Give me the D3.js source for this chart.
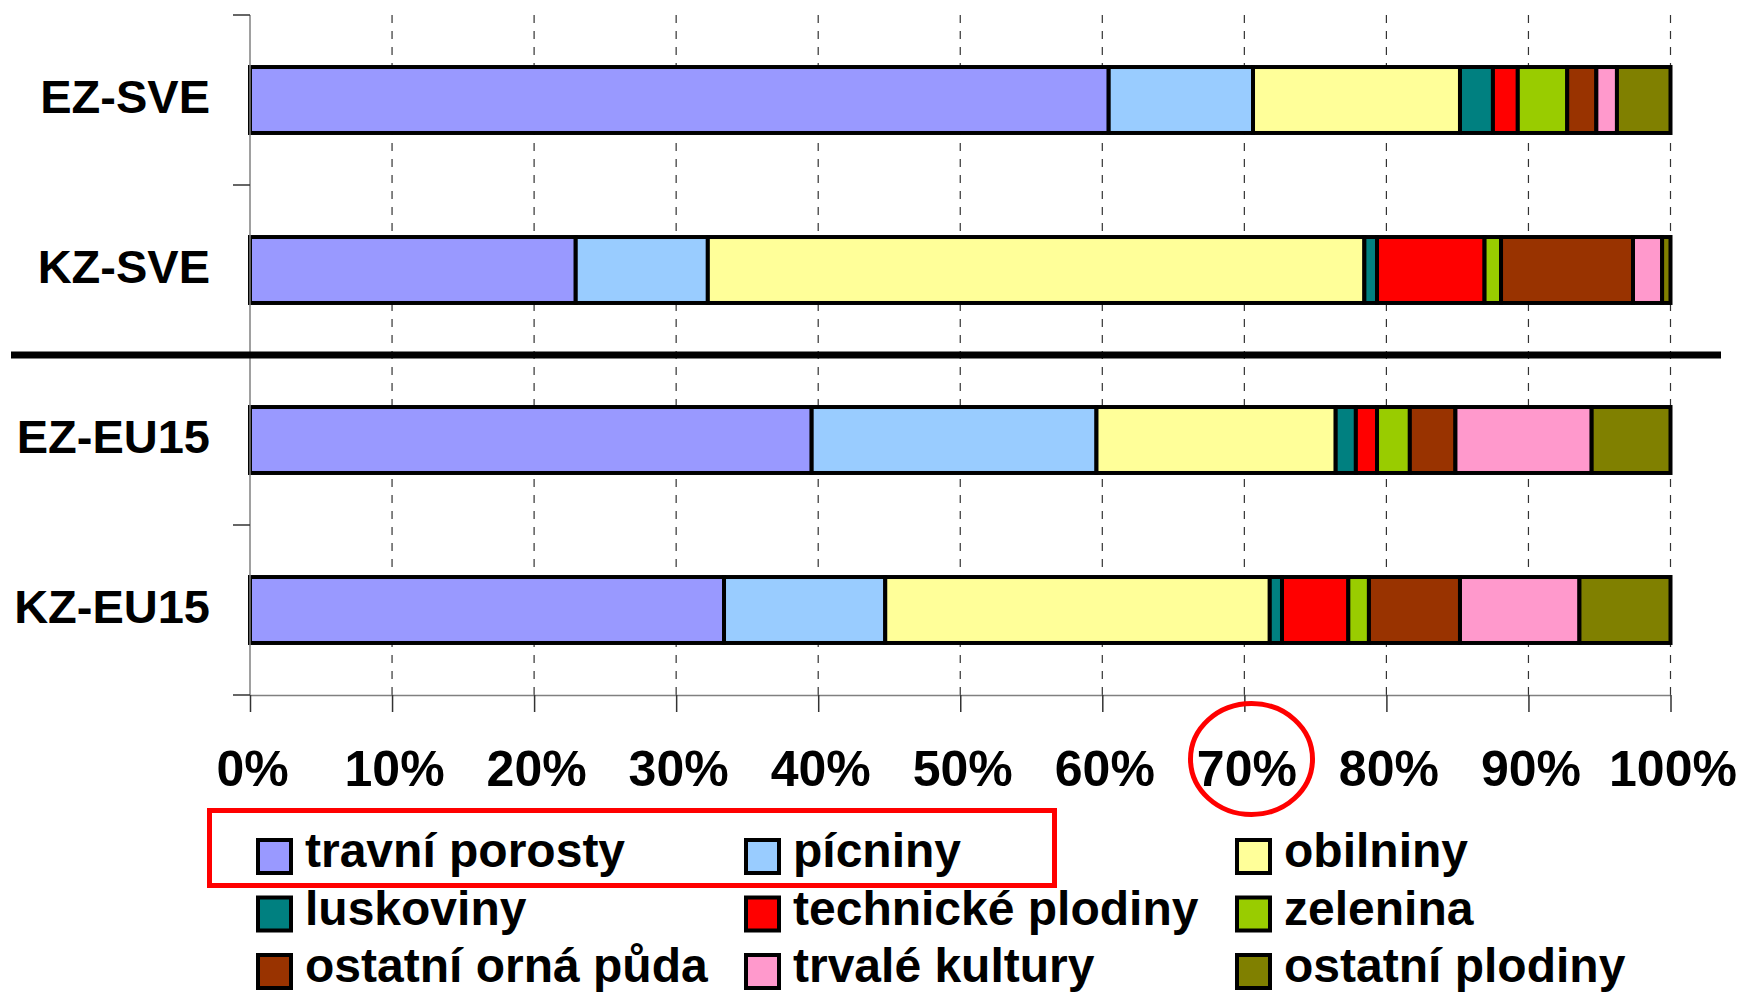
<!DOCTYPE html>
<html>
<head>
<meta charset="utf-8">
<script src="https://cdn.jsdelivr.net/npm/d3@7"></script>
<style>
  body { margin: 0; background: #fff; }
  svg { display: block; font-family: "Liberation Sans", Arial, sans-serif; font-weight: bold; }
</style>
</head>
<body>
<div id="chart"></div>
<script>
// categories (top to bottom)
var categories = ['EZ-SVE', 'KZ-SVE', 'EZ-EU15', 'KZ-EU15'];

// share of land use, % (one value per category)
var travniPorosty  = [60.45, 22.93, 39.54, 33.37];
var picniny        = [10.16,  9.30, 20.05, 11.35];
var obilniny       = [14.57, 46.22, 16.84, 27.07];
var luskoviny      = [ 2.32,  0.89,  1.42,  0.86];
var technicke      = [ 1.75,  7.57,  1.49,  4.67];
var zelenina       = [ 3.48,  1.16,  2.31,  1.45];
var ostatniOrna    = [ 2.05,  9.29,  3.21,  6.41];
var trvaleKultury  = [ 1.45,  2.05,  9.59,  8.41];
var ostatniPlodiny = [ 3.77,  0.59,  5.55,  6.41];

var seriesNames = ['travní porosty', 'pícniny', 'obilniny', 'luskoviny', 'technické plodiny',
                   'zelenina', 'ostatní orná půda', 'trvalé kultury', 'ostatní plodiny'];
var seriesValues = [travniPorosty, picniny, obilniny, luskoviny, technicke,
                    zelenina, ostatniOrna, trvaleKultury, ostatniPlodiny];
var seriesColors = ['#9999FF', '#99CCFF', '#FFFF99', '#008080', '#FF0000',
                    '#99CC00', '#993300', '#FF99CC', '#808000'];

var xTicks = [0, 10, 20, 30, 40, 50, 60, 70, 80, 90, 100];

var width = 1744, height = 992;

// build rows for d3.stack
var rows = categories.map(function(c, i) {
  var r = { cat: c };
  seriesNames.forEach(function(s, j) { r[s] = seriesValues[j][i]; });
  return r;
});

var svg = d3.select('#chart').append('svg')
  .attr('width', width)
  .attr('height', height);

var x = d3.scaleLinear().domain([0, 100]).range([250, 1670.5]);
var y = d3.scaleBand().domain(categories).range([15, 695])
  .paddingInner(0.612).paddingOuter(0.306);

var color = d3.scaleOrdinal().domain(seriesNames).range(seriesColors);

// dashed gridlines
svg.append('g')
  .selectAll('line')
  .data(xTicks.filter(function(d) { return d > 0; }))
  .enter()
  .append('line')
  .attr('x1', function(d) { return x(d); })
  .attr('x2', function(d) { return x(d); })
  .attr('y1', 15)
  .attr('y2', 695)
  .attr('stroke', '#333')
  .attr('stroke-width', 1.2)
  .attr('stroke-dasharray', '8,8');

// stacked bars
var stacked = d3.stack().keys(seriesNames)(rows);

svg.append('g')
  .selectAll('g')
  .data(stacked)
  .enter()
  .append('g')
  .attr('fill', function(d) { return color(d.key); })
  .selectAll('rect')
  .data(function(d) { return d; })
  .enter()
  .append('rect')
  .attr('x', function(d) { return x(d[0]); })
  .attr('width', function(d) { return x(d[1]) - x(d[0]); })
  .attr('y', function(d) { return y(d.data.cat); })
  .attr('height', y.bandwidth())
  .attr('stroke', '#000')
  .attr('stroke-width', 4);

// y axis (category ticks sit between bands)
var yAxis = svg.append('g');
yAxis.append('line')
  .attr('x1', 250).attr('x2', 250)
  .attr('y1', 15).attr('y2', 695)
  .attr('stroke', '#808080').attr('stroke-width', 1.5);
yAxis.selectAll('line.tick')
  .data(d3.range(categories.length + 1))
  .enter()
  .append('line')
  .attr('class', 'tick')
  .attr('x1', 233).attr('x2', 250)
  .attr('y1', function(i) { return y.range()[0] + i * y.step(); })
  .attr('y2', function(i) { return y.range()[0] + i * y.step(); })
  .attr('stroke', '#333').attr('stroke-width', 1.5);

yAxis.selectAll('text')
  .data(categories)
  .enter()
  .append('text')
  .attr('x', 210)
  .attr('y', function(d) { return y(d) + y.bandwidth() / 2 + 13; })
  .attr('text-anchor', 'end')
  .attr('font-size', 47)
  .attr('fill', '#000')
  .text(function(d) { return d; });

// x axis
var xAxis = svg.append('g')
  .attr('transform', 'translate(0,695)')
  .call(d3.axisBottom(x).tickValues(xTicks)
    .tickFormat(function(d) { return d + '%'; })
    .tickSize(17).tickSizeOuter(0));
xAxis.select('.domain').attr('stroke', '#808080').attr('stroke-width', 1.5);
xAxis.selectAll('.tick line').attr('stroke', '#333').attr('stroke-width', 1.5);
xAxis.selectAll('.tick text')
  .attr('x', 2)
  .attr('y', 91).attr('dy', 0)
  .attr('font-size', 50)
  .attr('font-weight', 'bold')
  .attr('font-family', '"Liberation Sans", Arial, sans-serif')
  .attr('fill', '#000');

// thick separator between SVE and EU15 groups
svg.append('line')
  .attr('x1', 11).attr('x2', 1721)
  .attr('y1', y.range()[0] + 2 * y.step())
  .attr('y2', y.range()[0] + 2 * y.step())
  .attr('stroke', '#000').attr('stroke-width', 7);

// legend
var legendCols = [256, 744, 1235];
var legendRows = [838, 895.5, 953];

var legend = svg.append('g')
  .selectAll('g')
  .data(seriesNames)
  .enter()
  .append('g')
  .attr('transform', function(d, i) {
    return 'translate(' + legendCols[i % 3] + ',' + legendRows[Math.floor(i / 3)] + ')';
  });

legend.append('rect')
  .attr('x', 2).attr('y', 2)
  .attr('width', 33).attr('height', 33)
  .attr('fill', function(d) { return color(d); })
  .attr('stroke', '#000')
  .attr('stroke-width', 4);

legend.append('text')
  .attr('x', 49)
  .attr('y', 29)
  .attr('font-size', 48)
  .attr('fill', '#000')
  .text(function(d) { return d; });

// red highlight annotations
svg.append('rect')
  .attr('x', 209.5).attr('y', 810.5)
  .attr('width', 845).attr('height', 75)
  .attr('fill', 'none')
  .attr('stroke', '#FF0000')
  .attr('stroke-width', 5);

svg.append('ellipse')
  .attr('cx', 1251.5).attr('cy', 759)
  .attr('rx', 61).attr('ry', 55.5)
  .attr('fill', 'none')
  .attr('stroke', '#FF0000')
  .attr('stroke-width', 5);
</script>
</body>
</html>
